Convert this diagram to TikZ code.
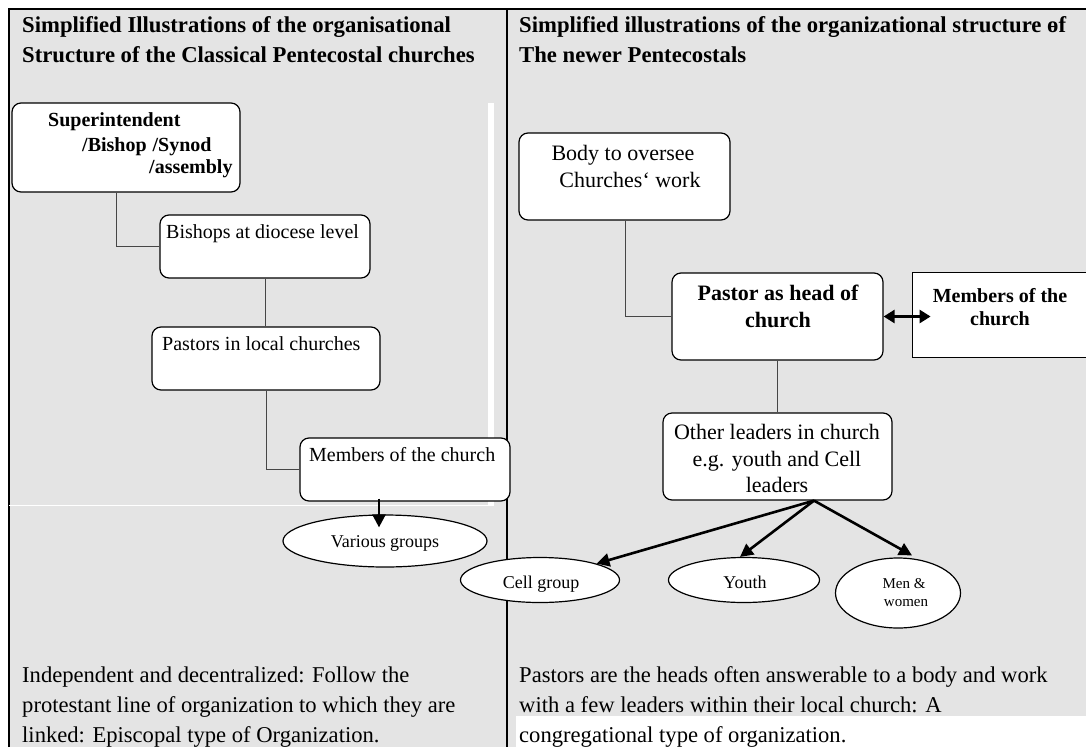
\documentclass[tikz,border=0pt]{standalone}
\usepackage{fontspec}
\setmainfont{Liberation Serif}
\usetikzlibrary{arrows.meta,shapes.geometric,calc}
\definecolor{bggray}{RGB}{228,228,228}
\definecolor{conngray}{RGB}{70,70,70}
\begin{document}
\begin{tikzpicture}[x=1pt,y=-1pt,
  rbox/.style={draw=black,line width=1.2pt,fill=white,rounded corners=9pt,inner sep=0pt},
  ebox/.style={ellipse,draw=black,line width=1.2pt,fill=white,inner sep=0pt},
  conn/.style={draw=conngray,line width=1pt},
  arr/.style={line width=2.6pt,-{Triangle[length=13pt,width=13pt]}},
  darr/.style={line width=2.6pt,{Triangle[length=11pt,width=13pt]}-{Triangle[length=11pt,width=13pt]}},
  ttl/.style={anchor=base west,inner sep=0pt,font=\fontsize{22.7}{27}\selectfont\bfseries},
  para/.style={anchor=base west,inner sep=0pt,font=\fontsize{22.6}{27}\selectfont},
  ltxt/.style={anchor=base west,inner sep=0pt,font=\fontsize{20}{24}\selectfont},
  lbold/.style={anchor=base west,inner sep=0pt,font=\fontsize{20}{24}\selectfont\bfseries},
  ctxt/.style={anchor=base,inner sep=0pt,font=\fontsize{22}{27}\selectfont},
  cbold/.style={anchor=base,inner sep=0pt,font=\fontsize{22}{27}\selectfont\bfseries},
  cbolds/.style={anchor=base,inner sep=0pt,font=\fontsize{20}{24}\selectfont\bfseries},
  etxt/.style={anchor=base,inner sep=0pt,font=\fontsize{18}{22}\selectfont},
  estxt/.style={anchor=base,inner sep=0pt,font=\fontsize{15}{18}\selectfont}
]
\useasboundingbox (0,0) rectangle (1086,747);
% background and frame (table)
\fill[bggray] (9,9) rectangle (1086,747);
\fill[white] (516,716) rectangle (1086,747);
\draw[line width=1.5pt] (9,747) -- (9,9) -- (1086,9);
\draw[line width=1.5pt] (507,9) -- (507,747);
% white strips
\fill[white] (488,103) rectangle (494,505);
\fill[white] (9,504.5) rectangle (494,505.7);

% titles
\node[ttl] (tl1) at (22,32) {Simplified Illustrations of the organisational};
\node[ttl] (tl2) at (22,62) {Structure of the Classical Pentecostal churches};
\node[ttl] (tr1) at (519,32) {Simplified illustrations of the organizational structure ɵf};
\node[ttl] (tr2) at (519,62) {The newer Pentecostals};

% left boxes
\node[rbox,minimum width=228pt,minimum height=89pt] (sup) at (126,147.5) {};
\node[rbox,minimum width=210pt,minimum height=63pt] (bish) at (265,246.5) {};
\node[rbox,minimum width=228pt,minimum height=63pt] (past) at (266,358.5) {};
\node[rbox,minimum width=210pt,minimum height=63pt] (memL) at (405,469.5) {};
\node[ebox,minimum width=204pt,minimum height=52pt] (var) at (385,541) {};

\node[lbold] (s1) at (48,126) {Superintendent};
\node[lbold] (s2) at (82,151) {/Bishop\hspace{6pt}/Synod};
\node[lbold] (s3) at (149,173) {/assembly};
\node[ltxt] (bisht) at (166,238) {Bishops at diocese level};
\node[ltxt] (pastt) at (162,350) {Pastors in local churches};
\node[ltxt] (memLt) at (309,461) {Members of the church};
\node[etxt] (vart) at (385,547) {Various groups};

\draw[conn] ([xshift=-10pt]sup.south) |- (bish.west);
\draw[conn] (bish.south) -- (bish.south |- past.north);
\draw[conn] (past.south) |- (memL.west);
\draw[arr] ([xshift=-26pt,yshift=3pt]memL.south) -- ([xshift=-6pt,yshift=-13pt]var.north);

% right boxes
\node[rbox,minimum width=211pt,minimum height=87pt] (body) at (624.5,176.5) {};
\node[rbox,minimum width=211pt,minimum height=87pt] (pastor) at (777.5,316.5) {};
\node[fill=white,inner sep=0pt,minimum width=173pt,minimum height=84pt] (memR) at (999.5,315) {};
\draw[line width=1.2pt] (memR.north east) -- (memR.north west) -- (memR.south west) -- (memR.south east);
\node[rbox,minimum width=229pt,minimum height=87pt] (other) at (777.5,456.5) {};
\node[ebox,minimum width=159pt,minimum height=45pt] (cell) at (540,580) {};
\node[ebox,minimum width=151pt,minimum height=45pt] (youth) at (744,580) {};
\node[ebox,minimum width=125pt,minimum height=70pt] (men) at (898,593) {};

\node[ctxt] (bodyt1) at (623,160) {Body to oversee};
\node[ctxt] (bodyt2) at (630,187) {Churches‘ work};
\node[cbold] (pastort1) at (778,300) {Pastor as head of};
\node[cbold] (pastort2) at (778,327) {church};
\node[cbolds] (memRt1) at (1000,302) {Members of the};
\node[cbolds] (memRt2) at (1000,325) {church};
\node[ctxt] (othert1) at (777,439) {Other leaders in church};
\node[ctxt] (othert2) at (777,466) {e.g. youth and Cell};
\node[ctxt] (othert3) at (777,492) {leaders};
\node[etxt] (cellt) at (541,588) {Cell group};
\node[etxt] (youtht) at (745,588) {Youth};
\node[estxt] (ment1) at (904,588) {Men \&};
\node[estxt] (ment2) at (906,606) {women};

\draw[conn] ([xshift=0.5pt]body.south) |- (pastor.west);
\draw[conn] (pastor.south) -- (other.north);
\draw[darr] (pastor.east) -- ($(pastor.east)+(47,0)$);
\coordinate (hub) at ([xshift=36.5pt]other.south);
\draw[arr] (hub) -- (cell);
\draw[arr] (hub) -- ([xshift=-4pt]youth.north);
\draw[arr] (hub) -- ([xshift=14pt,yshift=2pt]men.north);

% bottom paragraphs
\node[para] (bl1) at (22,682) {Independent and decentralized: Follow the};
\node[para] (bl2) at (22,712) {protestant line of organization to which they are};
\node[para] (bl3) at (22,742) {linked: Episcopal type of Organization.};
\node[para] (br1) at (519,682) {Pastors are the heads often answerable to a body and work};
\node[para] (br2) at (519,712) {with a few leaders within their local church: A};
\node[para] (br3) at (519,742) {congregational type of organization.};
\end{tikzpicture}
\end{document}
